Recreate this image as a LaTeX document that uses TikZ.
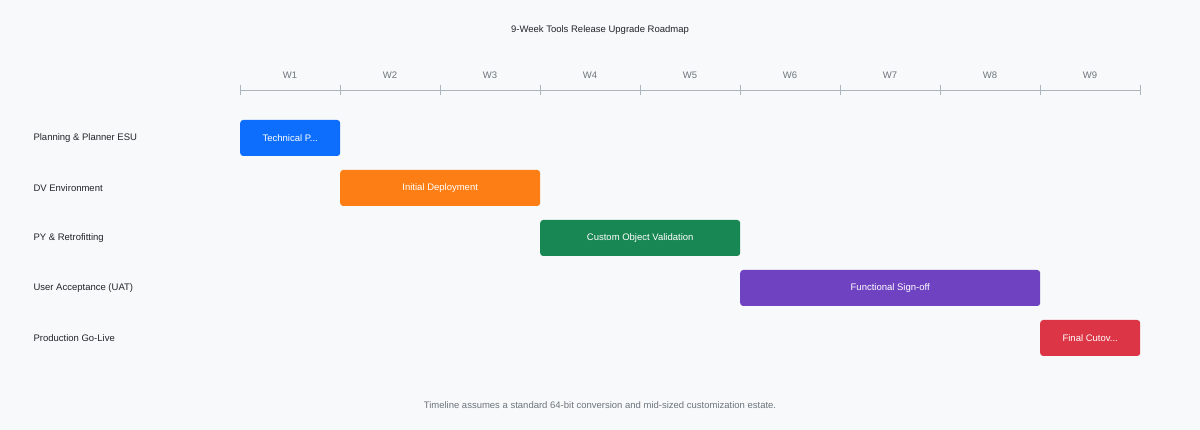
\documentclass[tikz,border=0pt]{standalone}
\usepackage{fontspec}
\setmainfont{Liberation Sans}
\definecolor{bg}{HTML}{F8F9FA}
\definecolor{ax}{HTML}{ADB5BD}
\definecolor{mut}{HTML}{6C757D}
\definecolor{dark}{HTML}{212529}
\definecolor{cb}{HTML}{0D6EFD}
\definecolor{co}{HTML}{FD7E14}
\definecolor{cg}{HTML}{198754}
\definecolor{cp}{HTML}{6F42C1}
\definecolor{cr}{HTML}{DC3545}
\begin{document}
\begin{tikzpicture}[x=1pt,y=-1pt,
  every node/.style={font=\fontsize{9.5}{11}\selectfont},
  bar/.style={rounded corners=3pt,minimum height=36pt,inner sep=0pt,text=white,anchor=west},
  rowlab/.style={anchor=west,text=dark},
  wk/.style={text=mut}]
\fill[bg] (0,0) rectangle (1200,430);
\useasboundingbox (0,0) rectangle (1200,430);
\node[text=dark] (title) at (600,30) {9-Week Tools Release Upgrade Roadmap};
\coordinate (a0) at (240,90); \coordinate (a1) at (1140,90);
\draw[ax] (a0) -- (a1);
\foreach \i in {0,...,9} \draw[ax] (240+100*\i,85) -- (240+100*\i,95);
\foreach \i in {1,...,9} \node[wk] (w\i) at (190+100*\i,75) {W\i};
\node[rowlab] (r1) at (30,138) {Planning \& Planner ESU};
\node[rowlab] (r2) at (30,188) {DV Environment};
\node[rowlab] (r3) at (30,238) {PY \& Retrofitting};
\node[rowlab] (r4) at (30,288) {User Acceptance (UAT)};
\node[rowlab] (r5) at (30,338) {Production Go-Live};
\node[bar,fill=cb,minimum width=100pt] (b1) at (240,138) {Technical P...};
\node[bar,fill=co,minimum width=200pt] (b2) at (340,188) {Initial Deployment};
\node[bar,fill=cg,minimum width=200pt] (b3) at (540,238) {Custom Object Validation};
\node[bar,fill=cp,minimum width=300pt] (b4) at (740,288) {Functional Sign-off};
\node[bar,fill=cr,minimum width=100pt] (b5) at (1040,338) {Final Cutov...};
\node[text=mut] (foot) at (600,405) {Timeline assumes a standard 64-bit conversion and mid-sized customization estate.};
\end{tikzpicture}
\end{document}
